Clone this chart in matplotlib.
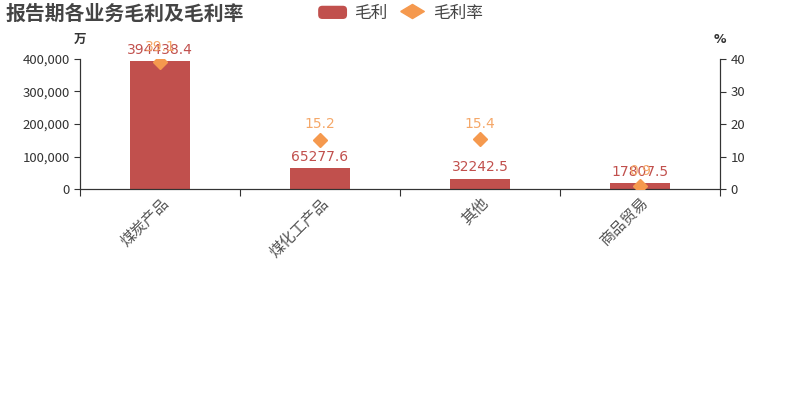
import matplotlib
matplotlib.use('Agg')
import matplotlib.pyplot as plt
from matplotlib.lines import Line2D
from matplotlib.patches import FancyBboxPatch, Patch
from matplotlib.legend_handler import HandlerPatch
import numpy as np

plt.rcParams['font.family'] = ['Noto Sans CJK SC', 'DejaVu Sans']

# 数据
categories = ['煤炭产品', '煤化工产品', '其他', '商品贸易']
gross_profit = [394438.4, 65277.6, 32242.5, 17807.5]   # 万
gross_margin = [39.1, 15.2, 15.4, 0.9]                 # %

bar_color = '#c1504d'
line_color = '#f5994e'
text_color = '#333333'


class RoundRectHandler(HandlerPatch):
    def create_artists(self, legend, orig_handle, xdescent, ydescent,
                       width, height, fontsize, trans):
        p = FancyBboxPatch((-xdescent + 1, -ydescent + 1), width - 2, height - 2,
                           boxstyle='round,pad=0,rounding_size=3',
                           facecolor=orig_handle.get_facecolor(),
                           edgecolor='none', transform=trans)
        return [p]


# 扁菱形图例标记
flat_diamond = [(-1, 0), (0, 0.6), (1, 0), (0, -0.6), (-1, 0)]

fig = plt.figure(figsize=(8, 4), dpi=100)
ax = fig.add_axes([0.1, 0.5275, 0.8, 0.325])
ax2 = ax.twinx()

x = np.arange(len(categories))
ax.bar(x, gross_profit, width=0.375, color=bar_color, zorder=2)
ax2.plot(x, gross_margin, linestyle='none', marker='D', markersize=7,
         color=line_color, zorder=3)

# 数值标签
for xi, v in zip(x, gross_profit):
    ax.annotate(f'{v:.1f}', (xi, v), xytext=(0, 3), textcoords='offset points',
                ha='center', va='bottom', fontsize=10, color=bar_color,
                family='DejaVu Sans')
for xi, v in zip(x, gross_margin):
    ax2.annotate(f'{v:.1f}', (xi, v), xytext=(0, 6), textcoords='offset points',
                 ha='center', va='bottom', fontsize=10, color='#f5a869',
                 family='DejaVu Sans', zorder=1)

# 轴
ax.set_xlim(-0.5, len(categories) - 0.5)
ax.set_ylim(0, 400000)
ax2.set_ylim(0, 40)
yt = [0, 100000, 200000, 300000, 400000]
ax.set_yticks(yt)
ax.set_yticklabels([f'{t:,}' for t in yt])
ax2.set_yticks([0, 10, 20, 30, 40])

ax.set_xticks(np.arange(-0.5, len(categories), 1.0))
ax.set_xticklabels([])
ax.set_xticks(x, minor=True)
ax.set_xticklabels(categories, minor=True, rotation=45, ha='right',
                   rotation_mode='anchor', fontsize=11, color='#555555')
ax.tick_params(axis='x', which='minor', length=0, pad=4)
ax.tick_params(axis='x', which='major', length=5, color=text_color)

for a in (ax, ax2):
    a.spines['top'].set_visible(False)
    for s in ('left', 'right', 'bottom'):
        a.spines[s].set_color(text_color)
    a.tick_params(axis='y', labelsize=9.5, labelcolor=text_color, color=text_color, length=4)

ax.text(0, 1.1, '万', transform=ax.transAxes, ha='center', va='bottom',
        fontsize=9, fontweight='bold', color=text_color)
ax2.text(1, 1.1, '%', transform=ax2.transAxes, ha='center', va='bottom',
         fontsize=9, fontweight='bold', color=text_color, family='DejaVu Sans')

# 标题
fig.text(0.007, 0.967, '报告期各业务毛利及毛利率', ha='left', va='center',
         fontsize=14.3, fontweight='bold', color='#444444')

# 图例
handles = [
    Patch(facecolor=bar_color),
    Line2D([], [], linestyle='none', marker=flat_diamond, markersize=17,
           color=line_color),
]
fig.legend(handles, ['毛利', '毛利率'], loc='center', bbox_to_anchor=(0.5, 0.967),
           ncol=2, frameon=False, fontsize=12, labelcolor='#444444',
           handletextpad=0.35, columnspacing=0.5, handlelength=1.9, handleheight=1.1,
           handler_map={Patch: RoundRectHandler()})

fig.savefig('out.png', dpi=100)
